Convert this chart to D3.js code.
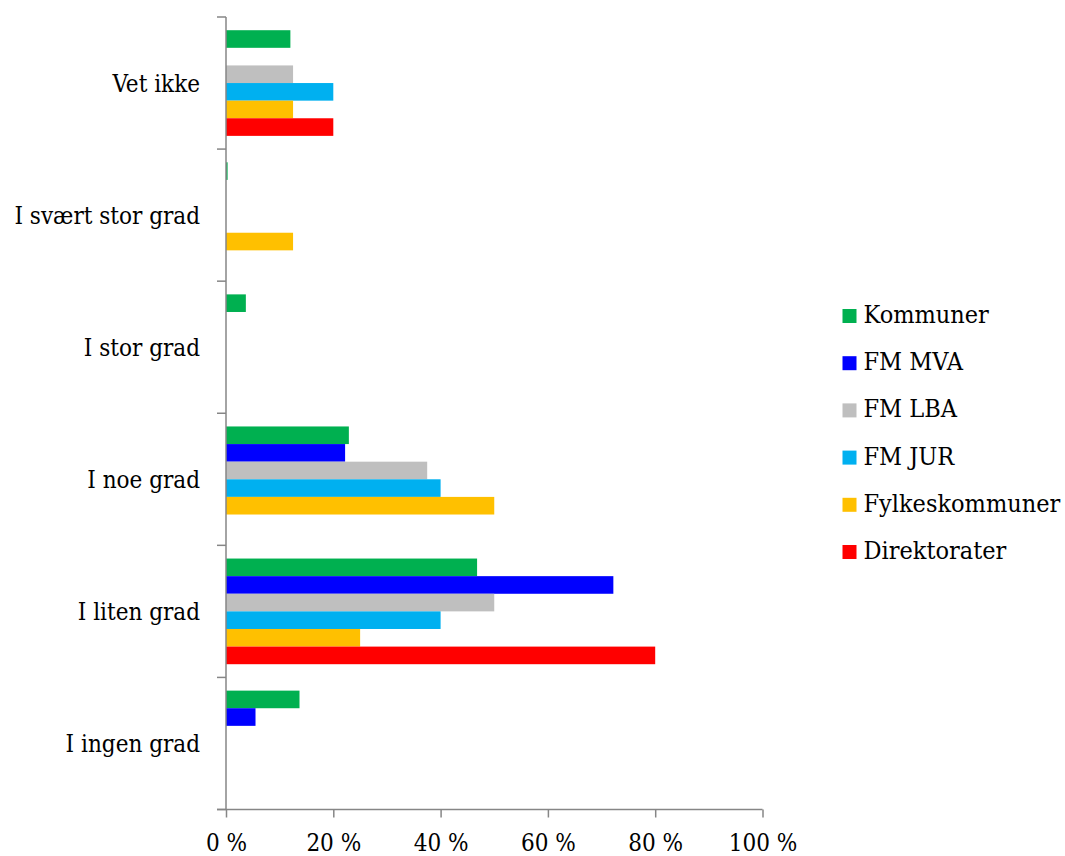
<!DOCTYPE html>
<html><head><meta charset="utf-8">
<script src="https://cdn.jsdelivr.net/npm/d3@7"></script>
<style>body{margin:0;background:#fff}svg{display:block}text{font-family:"DejaVu Serif","Liberation Serif",serif;font-stretch:condensed;fill:#000}</style>
</head><body><svg id="c" width="1065" height="856"></svg>
<script>
const categories = ["I ingen grad","I liten grad","I noe grad","I stor grad","I svært stor grad","Vet ikke"];
const seriesNames = ["Kommuner","FM MVA","FM LBA","FM JUR","Fylkeskommuner","Direktorater"];
const seriesColors = ["#00B050","#0000FF","#BFBFBF","#00B0F0","#FFC000","#FF0000"];
const kommuner = [13.7,46.8,22.9,3.7,0.3,12.0];
const fmMva = [5.5,72.2,22.2,0,0,0];
const fmLba = [0,50,37.5,0,0,12.5];
const fmJur = [0,40,40,0,0,20];
const fylkeskommuner = [0,25,50,0,12.5,12.5];
const direktorater = [0,80,0,0,0,20];
const xTicks = [0,20,40,60,80,100];
const seriesValues = [kommuner,fmMva,fmLba,fmJur,fylkeskommuner,direktorater];

const FS = 24;
const svg = d3.select("#c");
const x = d3.scaleLinear().domain([0,100]).range([226,762.5]);
const y = d3.scaleBand().domain(categories.slice().reverse()).range([17,809.5]).paddingInner(0).paddingOuter(0);
const inner = d3.scaleBand().domain(seriesNames).range([0,y.bandwidth()]).paddingOuter(0.75).paddingInner(0);

const g = svg.append("g");
seriesNames.forEach((s,si)=>{
  g.selectAll(null).data(categories).enter().append("rect")
    .attr("x",x(0))
    .attr("y",c=>y(c)+inner(s))
    .attr("width",(c,i)=>Math.max(0,x(seriesValues[si][i])-x(0)))
    .attr("height",inner.bandwidth())
    .attr("fill",seriesColors[si]);
});

const axCol="#868686";
const yb = categories.slice().reverse();
svg.append("line").attr("x1",226).attr("x2",226).attr("y1",17).attr("y2",809.5).attr("stroke",axCol).attr("stroke-width",1.5);
const yEdges = yb.map(c=>y(c)).concat([y(yb[yb.length-1])+y.bandwidth()]);
svg.selectAll(null).data(yEdges).enter().append("line")
  .attr("x1",217).attr("x2",226).attr("y1",d=>d).attr("y2",d=>d).attr("stroke",axCol).attr("stroke-width",1.5);
svg.selectAll(null).data(categories).enter().append("text")
  .attr("x",200).attr("y",c=>y(c)+y.bandwidth()/2).attr("dy","0.36em")
  .attr("text-anchor","end").attr("font-size",FS).text(c=>c);

const xa = svg.append("g").attr("transform","translate(0,809.5)")
  .call(d3.axisBottom(x).tickValues(xTicks).tickSize(8).tickFormat(d=>d+" %"));
xa.select(".domain").remove();
xa.selectAll(".tick line").attr("stroke",axCol).attr("stroke-width",1.5);
xa.selectAll(".tick text").attr("font-size",FS).attr("dy",0).attr("y",41)
  .style("font-family",'"DejaVu Serif","Liberation Serif",serif').style("font-stretch","condensed").attr("fill","#000");
svg.append("line").attr("x1",217).attr("x2",762.5).attr("y1",809.5).attr("y2",809.5).attr("stroke",axCol).attr("stroke-width",1.5);

const lg = svg.append("g");
seriesNames.forEach((s,i)=>{
  const cy = 316 + i*47.2;
  lg.append("rect").attr("x",842.5).attr("y",cy-7).attr("width",14).attr("height",14).attr("fill",seriesColors[i]);
  lg.append("text").attr("x",863.5).attr("y",cy+7).attr("font-size",FS+1).text(s);
});
</script></body></html>
